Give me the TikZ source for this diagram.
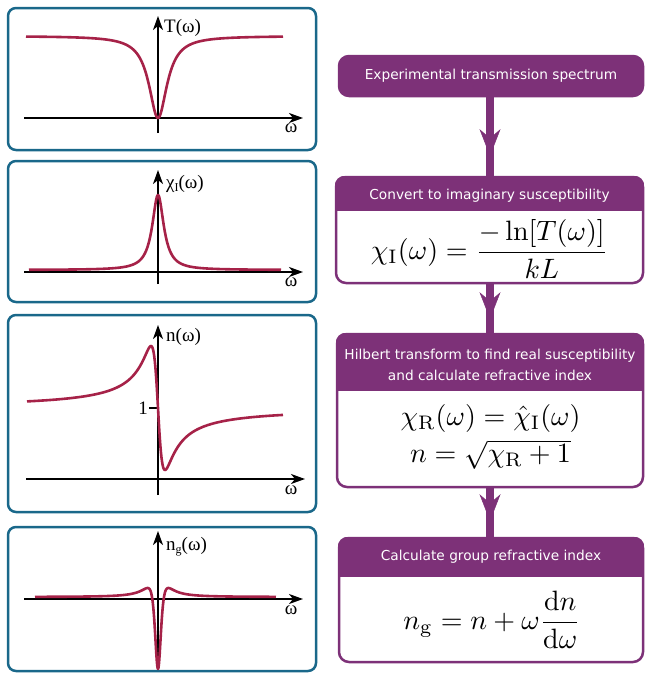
\documentclass[tikz,border=0pt]{standalone}
\usepackage[no-math]{fontspec}
\newfontfamily\hdfont{DejaVu Sans}
\newfontfamily\labfont{Liberation Serif}
\usetikzlibrary{arrows.meta,calc}
\definecolor{pur}{RGB}{125,49,120}
\definecolor{tealb}{RGB}{26,104,138}
\definecolor{crim}{RGB}{166,34,72}
\newcommand{\lsub}[1]{\raisebox{-3pt}{\fontsize{12}{12}\selectfont #1}}
\begin{document}
\begin{tikzpicture}[x=1pt,y=-1pt,
 panel/.style={draw=tealb, line width=2.5pt, rounded corners=8pt, minimum width=308pt, inner sep=0pt},
 axis/.style={line width=1.8pt, -{Stealth[length=14pt,width=10pt,inset=4pt]}},
 curve/.style={crim, line width=2.6pt, line join=round},
 lab/.style={font=\labfont\fontsize{19}{22}\selectfont, inner sep=0pt},
 hbox/.style={draw=pur, line width=2.5pt, fill=white, rounded corners=10pt, inner sep=0pt},
 htext/.style={text=white, font=\hdfont\fontsize{13.7}{21}\selectfont, align=center, inner sep=0pt},
 eq/.style={scale=2.8, inner sep=0pt},
 shaft/.style={pur, line width=7.5pt},
 head/.style={pur, line width=0.5pt, -{Stealth[length=27pt,width=21pt,inset=9pt]}},
 declare function={lor(\u,\g)=1/(1+(\u/\g)*(\u/\g));}
]
\useasboundingbox (0,0) rectangle (645,675);

% ---- left panels ----
\node[panel, minimum height=142pt] (p1) at (162,79) {};
\node[panel, minimum height=141pt] (p2) at (162,231.5) {};
\node[panel, minimum height=197pt] (p3) at (162,413.5) {};
\node[panel, minimum height=144pt] (p4) at (162,599) {};

% panel 1: T
\draw[axis] (24,118) -- (303,118);
\draw[axis] (158,133) -- (158,16);
\draw[curve] plot[domain=26:283, samples=600] (\x, {36+82*lor(\x-158,11)});
\node[lab, anchor=west] (l1) at (164,28) {T(ω)};
\node[lab] (w1) at (291,128) {ω};

% panel 2: chi_I
\draw[axis] (24,272) -- (303,272);
\draw[axis] (158,284) -- (158,170);
\draw[curve] plot[domain=29:281, samples=500] (\x, {270-75*lor(\x-158,7)});
\node[lab, anchor=west] (l2) at (166,184) {χ\lsub{I}(ω)};
\node[lab] (w2) at (291,282) {ω};

% panel 3: n
\draw[axis] (26,479) -- (305,479);
\draw[axis] (158,495) -- (158,325);
\draw[line width=1.5pt] (149,408) -- (158,408);
\draw[curve] plot[domain=27:283, samples=500] (\x, {408+86.8*((\x-158)/10)/(((\x-158)/10)*((\x-158)/10)+0.49)});
\node[lab, anchor=west] (l3) at (166,337) {n(ω)};
\node[lab] (one) at (143,408) {1};
\node[lab] (w3) at (291,490) {ω};

% panel 4: n_g
\draw[axis] (24,599) -- (303,599);
\draw[axis] (158,670) -- (158,531);
\draw[curve] plot[domain=35:276, samples=600] (\x, {597+((1-((\x-158)/6)*((\x-158)/6))/(1+((\x-158)/6)*((\x-158)/6)))*(72/(1+((\x-158)/6)*((\x-158)/6)))});
\node[lab, anchor=west] (l4) at (166,547) {n\lsub{g}(ω)};
\node[lab] (w4) at (291,610) {ω};

% ---- right flow boxes ----
\node[hbox, fill=pur, minimum width=304pt, minimum height=40pt] (b1) at (491,76) {};
\node[htext] (t1) at (b1) {Experimental transmission spectrum};

\node[hbox, minimum width=307pt, minimum height=106pt] (b2) at (489.5,230) {};
\begin{scope}
\clip[rounded corners=10pt] (b2.north west) rectangle (b2.south east);
\fill[pur] (b2.north west) rectangle ($(b2.north east)+(0,35)$);
\end{scope}
\node[htext] (t2) at (489.5,196) {Convert to imaginary susceptibility};
\node[eq] (e2) at (489.5,249) {$\displaystyle \chi_{\mathrm{I}}(\omega)=\frac{-\ln[T(\omega)]}{kL}$};

\node[hbox, minimum width=306pt, minimum height=153pt] (b3) at (490,410.5) {};
\begin{scope}
\clip[rounded corners=10pt] (b3.north west) rectangle (b3.south east);
\fill[pur] (b3.north west) rectangle ($(b3.north east)+(0,58)$);
\end{scope}
\node[htext] (t3) at (490,364.5) {Hilbert transform to find real susceptibility\\and calculate refractive index};
\node[eq, align=center, font=\fontsize{10}{13.4}\selectfont] (e3) at (490.5,436.5) {$\chi_{\mathrm{R}}(\omega)=\hat{\chi}_{\mathrm{I}}(\omega)$\\$n=\sqrt{\chi_{\mathrm{R}}+1}$};

\node[hbox, minimum width=304pt, minimum height=124pt] (b4) at (491,600) {};
\begin{scope}
\clip[rounded corners=10pt] (b4.north west) rectangle (b4.south east);
\fill[pur] (b4.north west) rectangle ($(b4.north east)+(0,40)$);
\end{scope}
\node[htext] (t4) at (491,557) {Calculate group refractive index};
\node[eq] (e4) at (492,620) {$\displaystyle n_{\mathrm{g}}=n+\omega\frac{\mathrm{d}n}{\mathrm{d}\omega}$};

% ---- arrows ----
\coordinate (a1) at (490,0 |- b1.south);
\coordinate (a2) at (490,0 |- b2.south);
\coordinate (a3) at (490,0 |- b3.south);
\draw[shaft] (a1) -- (a1 |- b2.north);
\draw[shaft] (a2) -- (a2 |- b3.north);
\draw[shaft] (a3) -- (a3 |- b4.north);
\coordinate (h1) at ($(a1)!0.75!(a1 |- b2.north)$);
\coordinate (h2) at ($(a2)!0.72!(a2 |- b3.north)$);
\coordinate (h3) at ($(a3)!0.68!(a3 |- b4.north)$);
\draw[head] (a1) -- (h1);
\draw[head] (a2) -- (h2);
\draw[head] (a3) -- (h3);
\end{tikzpicture}
\end{document}
